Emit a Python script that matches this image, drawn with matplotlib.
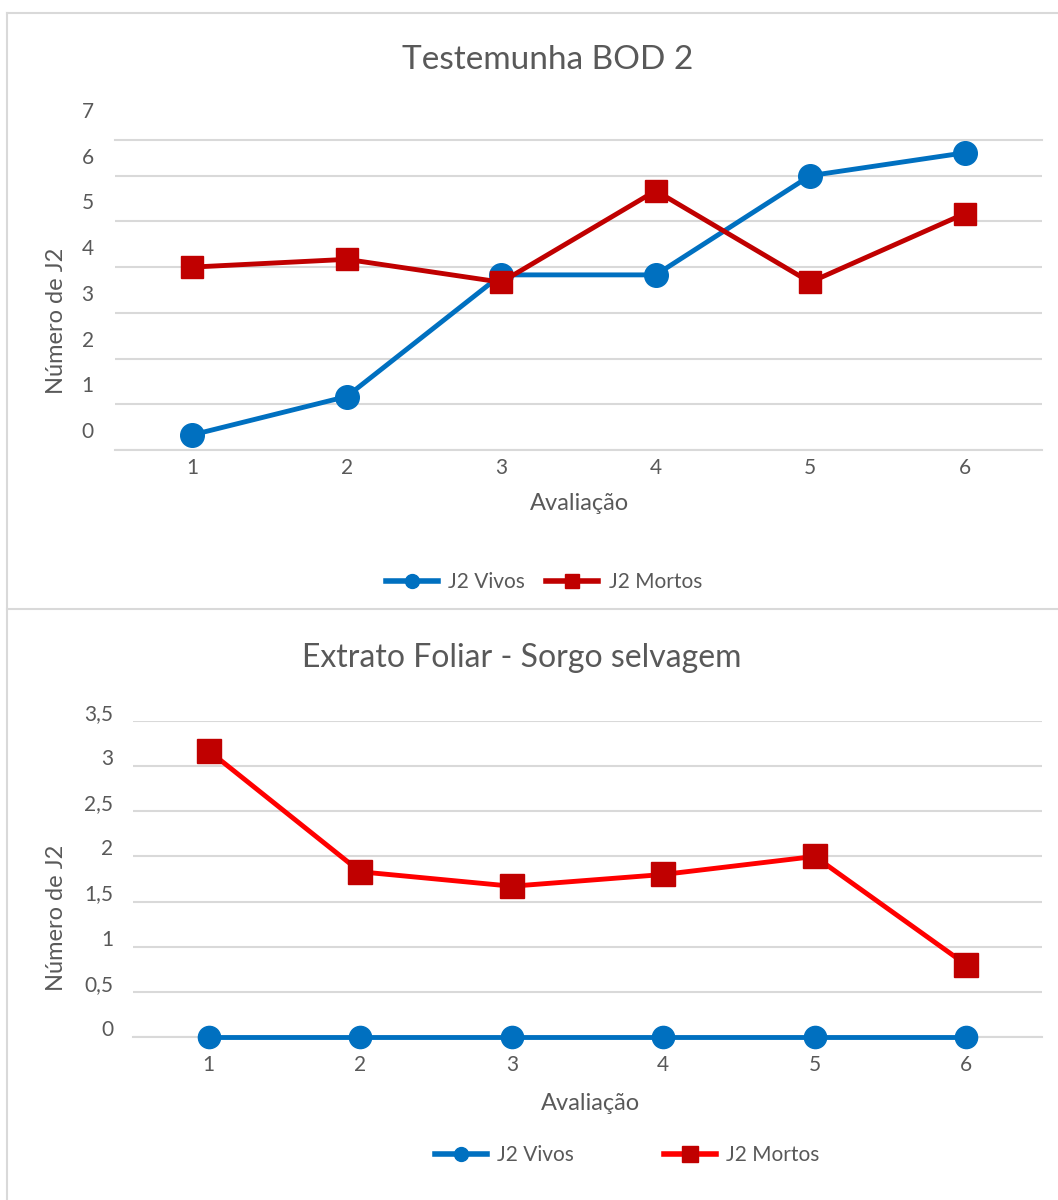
import matplotlib
matplotlib.use("Agg")
import matplotlib.pyplot as plt
from matplotlib.lines import Line2D
from matplotlib.transforms import ScaledTranslation, blended_transform_factory

plt.rcParams['font.family'] = ['Lato', 'DejaVu Sans']

avaliacao = [1, 2, 3, 4, 5, 6]

# Testemunha BOD 2
bod_vivos = [0.33, 1.17, 3.83, 3.83, 6.0, 6.5]
bod_mortos = [4.0, 4.17, 3.67, 5.67, 3.67, 5.17]
bod_yticks = [0, 1, 2, 3, 4, 5, 6, 7]
bod_ylabels = ['0', '1', '2', '3', '4', '5', '6', '7']

# Extrato foliar - sorgo selvagem
sorgo_vivos = [0, 0, 0, 0, 0, 0]
sorgo_mortos = [3.17, 1.83, 1.67, 1.8, 2.0, 0.8]
sorgo_yticks = [0, 0.5, 1, 1.5, 2, 2.5, 3, 3.5]
sorgo_ylabels = ['0', '0,5', '1', '1,5', '2', '2,5', '3', '3,5']

BLUE = '#0070C0'
DARK_RED = '#C00000'
RED = '#FF0000'
GRID = '#D9D9D9'
TEXT = '#595959'

W, H = 1058, 1200
fig = plt.figure(figsize=(W / 100, H / 100), dpi=100)


def px(x0, y0, x1, y1):
    # pixel box (top-left origin) -> figure fraction rect
    return [x0 / W, 1 - y1 / H, (x1 - x0) / W, (y1 - y0) / H]


def ftext(x, y, s, **kw):
    # text placed by pixel position (top-left origin)
    fig.text(x / W, 1 - y / H, s, ha='center', va='center', color=TEXT, **kw)


def style_axes(ax, ylim, grid_ticks, xpad):
    ax.set_xlim(0.5, 6.5)
    ax.set_ylim(*ylim)
    ax.set_xticks(avaliacao)
    ax.set_yticks(grid_ticks)
    ax.set_yticklabels([])
    ax.grid(axis='y', color=GRID, lw=1.5)
    ax.set_axisbelow(True)
    for side in ['left', 'right', 'top']:
        ax.spines[side].set_visible(False)
    ax.spines['bottom'].set_color(GRID)
    ax.spines['bottom'].set_linewidth(1.5)
    ax.tick_params(axis='both', length=0, labelsize=15, colors=TEXT)
    ax.tick_params(axis='x', pad=xpad)


def ytick_text(ax, ticks, labels, xfrac, dy):
    trans = blended_transform_factory(ax.transAxes, ax.transData) + \
        ScaledTranslation(0, dy, fig.dpi_scale_trans)
    for v, lab in zip(ticks, labels):
        ax.text(xfrac, v, lab, transform=trans, ha='right', va='center',
                fontsize=15, color=TEXT, clip_on=False)


# chart borders
for (x0, y0, x1, y1) in [(7, 13, W, 13), (7, 609, W, 609), (7, 13, 7, H)]:
    fig.add_artist(Line2D([x0 / W, x1 / W], [1 - y0 / H, 1 - y1 / H],
                          transform=fig.transFigure, color=GRID, lw=1.5))

# --- top chart ---
ax1 = fig.add_axes(px(115, 140, 1042, 450))
style_axes(ax1, (0, 6.78), bod_yticks[:-1], 6)
ax1.spines['top'].set_visible(True)
ax1.spines['top'].set_color(GRID)
ax1.spines['top'].set_linewidth(1.5)
ax1.plot(avaliacao, bod_vivos, color=BLUE, lw=3.5, marker='o', ms=17,
         label='J2 Vivos', zorder=3)
ax1.plot(avaliacao, bod_mortos, color=DARK_RED, lw=3.5, marker='s', ms=16,
         label='J2 Mortos', zorder=4)
ytick_text(ax1, bod_yticks, bod_ylabels, -0.023, 0.18)
ftext(548, 60, 'Testemunha BOD 2', fontsize=24)
ftext(579, 503, 'Avaliação', fontsize=17)
ftext(57, 321, 'Número de J2', fontsize=17, rotation=90)

h1 = [Line2D([], [], color=BLUE, lw=4, marker='o', ms=10),
      Line2D([], [], color=DARK_RED, lw=4, marker='s', ms=10)]
fig.legend(h1, ['J2 Vivos', 'J2 Mortos'], loc='center',
           bbox_to_anchor=(544 / W, 1 - 582 / H), ncol=2, frameon=False,
           fontsize=15, labelcolor=TEXT, handlelength=2.5, columnspacing=1.0,
           handletextpad=0.5)

# --- bottom chart ---
ax2 = fig.add_axes(px(133, 721, 1042, 1037))
style_axes(ax2, (0, 3.5), sorgo_yticks, 13)
ax2.plot(avaliacao, sorgo_vivos, color=BLUE, lw=3.5, marker='o', ms=16,
         label='J2 Vivos', zorder=3, clip_on=False)
ax2.plot(avaliacao, sorgo_mortos, color=RED, lw=3.5, marker='s', ms=17,
         mfc=DARK_RED, mec=DARK_RED, label='J2 Mortos', zorder=4)
ytick_text(ax2, sorgo_yticks, sorgo_ylabels, -0.022, 0.07)
ftext(522, 658, 'Extrato Foliar - Sorgo selvagem', fontsize=23)
ftext(590, 1103, 'Avaliação', fontsize=17)
ftext(57, 918, 'Número de J2', fontsize=17, rotation=90)

h2 = [Line2D([], [], color=BLUE, lw=4, marker='o', ms=10),
      Line2D([], [], color=RED, lw=4, marker='s', ms=11,
             mfc=DARK_RED, mec=DARK_RED)]
fig.legend(h2, ['J2 Vivos', 'J2 Mortos'], loc='center',
           bbox_to_anchor=(627 / W, 1 - 1155 / H), ncol=2, frameon=False,
           fontsize=15, labelcolor=TEXT, handlelength=2.5, columnspacing=4.3,
           handletextpad=0.5)

fig.savefig('out.png', dpi=100, facecolor='white')
